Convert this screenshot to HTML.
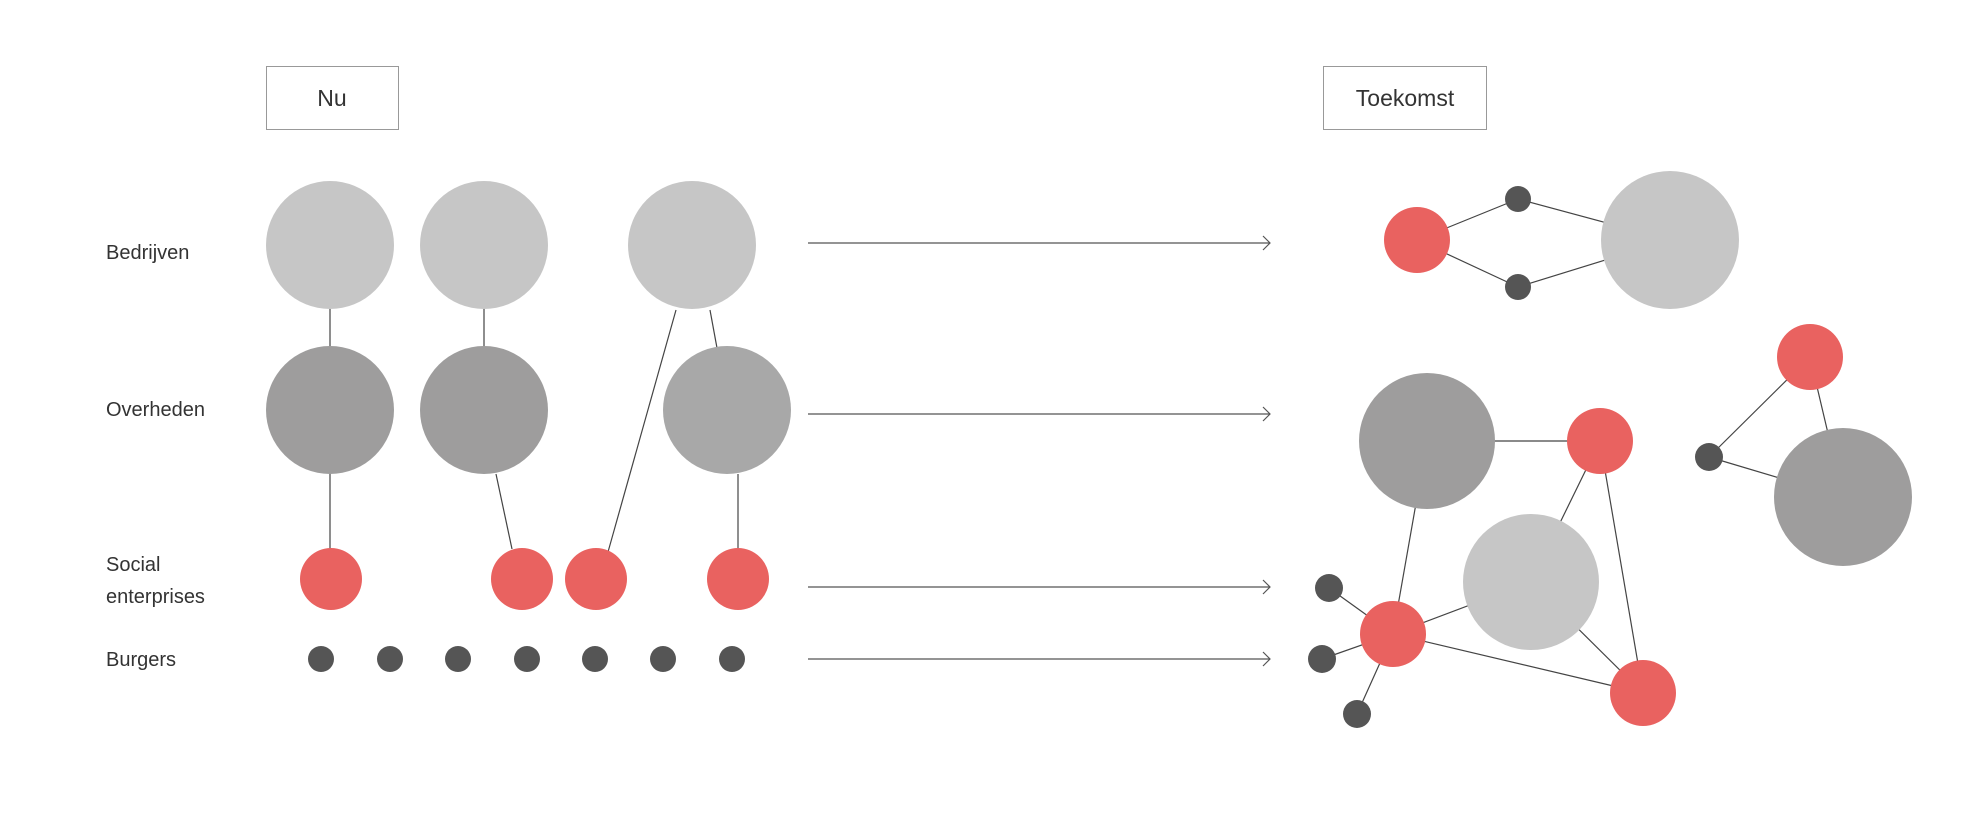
<!DOCTYPE html>
<html><head><meta charset="utf-8"><style>
html,body{margin:0;padding:0;background:#fff;}
svg{display:block;}
text{font-family:"Liberation Sans",sans-serif;fill:#333;}
</style></head><body>
<svg width="1984" height="815" viewBox="0 0 1984 815" xmlns="http://www.w3.org/2000/svg">
<g fill="none" stroke="#444" stroke-width="1.2">
<!-- left connectors -->
<line x1="330" y1="300" x2="330" y2="360"/>
<line x1="484" y1="300" x2="484" y2="360"/>
<line x1="676" y1="310" x2="608" y2="552"/>
<line x1="710" y1="310" x2="717" y2="348"/>
<line x1="496" y1="474" x2="512" y2="549"/>
<line x1="330" y1="470" x2="330" y2="550"/>
<line x1="738" y1="474" x2="738" y2="550"/>
<!-- arrows -->
<g stroke="#555">
<line x1="808" y1="243" x2="1270" y2="243"/><polyline points="1263,236 1270,243 1263,250"/>
<line x1="808" y1="414" x2="1270" y2="414"/><polyline points="1263,407 1270,414 1263,421"/>
<line x1="808" y1="587" x2="1270" y2="587"/><polyline points="1263,580 1270,587 1263,594"/>
<line x1="808" y1="659" x2="1270" y2="659"/><polyline points="1263,652 1270,659 1263,666"/>
</g>
<!-- right connectors -->
<line x1="1417" y1="240" x2="1518" y2="199"/>
<line x1="1417" y1="240" x2="1518" y2="287"/>
<line x1="1518" y1="199" x2="1670" y2="240"/>
<line x1="1518" y1="287" x2="1670" y2="240"/>
<line x1="1427" y1="441" x2="1600" y2="441"/>
<line x1="1600" y1="441" x2="1531" y2="582"/>
<line x1="1600" y1="441" x2="1643" y2="693"/>
<line x1="1427" y1="441" x2="1393" y2="634"/>
<line x1="1393" y1="634" x2="1531" y2="582"/>
<line x1="1393" y1="634" x2="1643" y2="693"/>
<line x1="1531" y1="582" x2="1643" y2="693"/>
<line x1="1393" y1="634" x2="1329" y2="588"/>
<line x1="1393" y1="634" x2="1322" y2="659"/>
<line x1="1393" y1="634" x2="1357" y2="714"/>
<line x1="1810" y1="357" x2="1709" y2="457"/>
<line x1="1810" y1="357" x2="1843" y2="497"/>
<line x1="1709" y1="457" x2="1843" y2="497"/>
</g>
<!-- boxes -->
<rect x="266.5" y="66.5" width="132" height="63" fill="#fff" stroke="#999"/>
<text x="332" y="106" font-size="23" text-anchor="middle" fill="#111">Nu</text>
<rect x="1323.5" y="66.5" width="163" height="63" fill="#fff" stroke="#999"/>
<text x="1405" y="106" font-size="23" text-anchor="middle" fill="#111">Toekomst</text>
<!-- labels -->
<g font-size="20">
<text x="106" y="259">Bedrijven</text>
<text x="106" y="416">Overheden</text>
<text x="106" y="571">Social</text>
<text x="106" y="603">enterprises</text>
<text x="106" y="666">Burgers</text>
</g>
<!-- left circles -->
<g fill="#c6c6c6"><circle cx="330" cy="245" r="64"/><circle cx="484" cy="245" r="64"/><circle cx="692" cy="245" r="64"/></g>
<g fill="#9e9d9d"><circle cx="330" cy="410" r="64"/><circle cx="484" cy="410" r="64"/></g>
<circle cx="727" cy="410" r="64" fill="#a8a8a8"/>
<g fill="#e96260"><circle cx="331" cy="579" r="31"/><circle cx="522" cy="579" r="31"/><circle cx="596" cy="579" r="31"/><circle cx="738" cy="579" r="31"/></g>
<g fill="#555"><circle cx="321" cy="659" r="13"/><circle cx="390" cy="659" r="13"/><circle cx="458" cy="659" r="13"/><circle cx="527" cy="659" r="13"/><circle cx="595" cy="659" r="13"/><circle cx="663" cy="659" r="13"/><circle cx="732" cy="659" r="13"/></g>
<!-- right circles -->
<circle cx="1670" cy="240" r="69" fill="#c6c6c6"/>
<circle cx="1417" cy="240" r="33" fill="#e96260"/>
<circle cx="1518" cy="199" r="13" fill="#555"/>
<circle cx="1518" cy="287" r="13" fill="#555"/>
<circle cx="1427" cy="441" r="68" fill="#9e9d9d"/>
<circle cx="1600" cy="441" r="33" fill="#e96260"/>
<circle cx="1531" cy="582" r="68" fill="#c6c6c6"/>
<circle cx="1393" cy="634" r="33" fill="#e96260"/>
<circle cx="1643" cy="693" r="33" fill="#e96260"/>
<circle cx="1329" cy="588" r="14" fill="#555"/>
<circle cx="1322" cy="659" r="14" fill="#555"/>
<circle cx="1357" cy="714" r="14" fill="#555"/>
<circle cx="1810" cy="357" r="33" fill="#e96260"/>
<circle cx="1709" cy="457" r="14" fill="#555"/>
<circle cx="1843" cy="497" r="69" fill="#9e9d9d"/>
</svg>
</body></html>
